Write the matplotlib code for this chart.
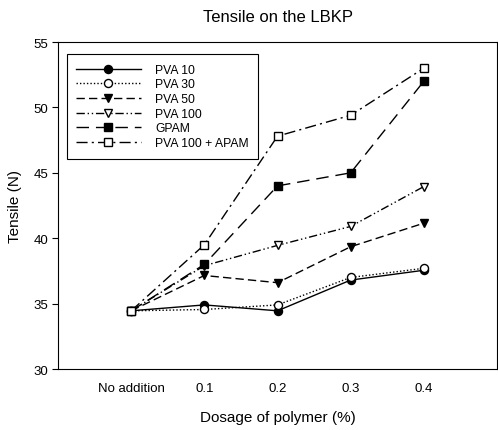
import matplotlib
matplotlib.use("Agg")
import matplotlib.pyplot as plt

plt.rcParams['font.family'] = ['Liberation Sans', 'DejaVu Sans']

# dosage categories on the x axis
categories = ["No addition", "0.1", "0.2", "0.3", "0.4"]

# tensile (N) per polymer
pva10 = [34.45, 34.9, 34.45, 36.8, 37.55]
pva30 = [34.45, 34.55, 34.9, 37.0, 37.7]
pva50 = [34.45, 37.15, 36.6, 39.35, 41.15]
pva100 = [34.45, 37.9, 39.45, 40.9, 43.95]
gpam = [34.45, 38.0, 44.0, 45.0, 52.0]
pva100_apam = [34.45, 39.5, 47.8, 49.4, 53.0]

labels = ["PVA 10", "PVA 30", "PVA 50", "PVA 100", "GPAM", "PVA 100 + APAM"]

fig = plt.figure(figsize=(4.98, 4.31), dpi=100)
ax = fig.add_axes([0.1165, 0.1415, 0.8815, 0.7587])

x = list(range(len(categories)))
ms = 5.8

# one call per series, same look as the original
ax.plot(x, pva10, color="black", lw=1, ls="-", marker="o",
        ms=ms, mfc="black", mec="black", label=labels[0])
ax.plot(x, pva30, color="black", lw=1, ls=(0, (1, 1.5)), marker="o",
        ms=ms, mfc="white", mec="black", label=labels[1])
ax.plot(x, pva50, color="black", lw=1, ls=(0, (6, 3)), marker="v",
        ms=ms, mfc="black", mec="black", label=labels[2])
ax.plot(x, pva100, color="black", lw=1, ls=(0, (6, 2, 1, 2, 1, 2)), marker="v",
        ms=ms, mfc="white", mec="black", label=labels[3])
ax.plot(x, gpam, color="black", lw=1, ls=(0, (9, 5)), marker="s",
        ms=ms - 0.5, mfc="black", mec="black", label=labels[4])
ax.plot(x, pva100_apam, color="black", lw=1, ls=(0, (8, 3, 1.5, 3)), marker="s",
        ms=ms - 0.5, mfc="white", mec="black", label=labels[5])

ax.set_xlim(-1, 5)
ax.set_ylim(30, 55)
ax.set_xticks(x)
ax.set_xticklabels(categories, fontsize=9.5)
ax.set_yticks([30, 35, 40, 45, 50, 55])
ax.tick_params(axis="y", labelsize=9.5, length=4, width=0.8, direction="out", pad=3)
ax.tick_params(axis="x", length=0, pad=9)

for sp in ax.spines.values():
    sp.set_linewidth(0.8)

ax.set_xlabel("Dosage of polymer (%)", fontsize=11, labelpad=12)
ax.set_ylabel("Tensile (N)", fontsize=11, labelpad=8)
ax.set_title("Tensile on the LBKP", fontsize=12, pad=15)

leg = ax.legend(loc="upper left", bbox_to_anchor=(0.02, 0.963), fontsize=8.7,
                handlelength=5.3, numpoints=1, fancybox=False, framealpha=1,
                edgecolor="black", borderpad=0.8, labelspacing=0.22,
                handletextpad=1.2, borderaxespad=0)
leg.get_frame().set_linewidth(0.8)

fig.savefig("out.png", dpi=100)
